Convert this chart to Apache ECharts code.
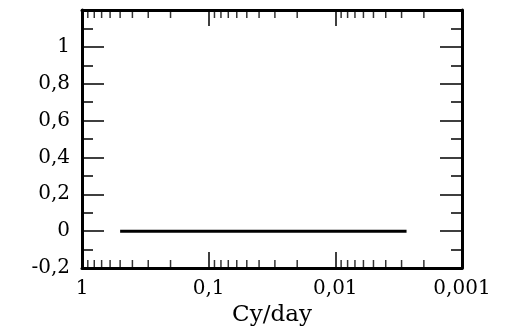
<!DOCTYPE html>
<html>
<head>
<meta charset="utf-8">
<script src="https://cdn.jsdelivr.net/npm/echarts@6/dist/echarts.min.js"></script>
<style>
  html, body { margin: 0; padding: 0; background: #fff; }
  #chart { width: 510px; height: 327px; }
</style>
</head>
<body>
<div id="chart"></div>
<script>
// line at zero from 0.5 cy/day down to 1/365 cy/day
var lineX = [0.5, 0.00274];
var lineY = [0, 0];
// minor log ticks between decades
var minorTickX = [0.9, 0.8, 0.7, 0.6, 0.5, 0.4, 0.3, 0.2,
                  0.09, 0.08, 0.07, 0.06, 0.05, 0.04, 0.03, 0.02,
                  0.009, 0.008, 0.007, 0.006, 0.005, 0.004, 0.003, 0.002];
var yMin = -0.2, yMax = 1.2, yStep = 0.2;
var xMin = 0.001, xMax = 1;

var font = 'DejaVu Serif';

function fmtX(v) {
    return String(Number(v.toPrecision(3))).replace('.', ',');
}
function fmtY(v) {
    var n = Math.round(v * 10) / 10;
    if (n === yMax) return '';
    return String(n).replace('.', ',');
}

var myChart = echarts.init(document.getElementById('chart'));

var xBase = {
    type: 'log',
    logBase: 10,
    inverse: true,
    min: xMin,
    max: xMax,
    axisLine: { onZero: false, lineStyle: { color: '#000', width: 3 } },
    axisTick: { inside: true, length: 16, lineStyle: { color: '#000', width: 1.5 } },
    splitLine: { show: false }
};
var yBase = {
    type: 'value',
    min: yMin,
    max: yMax,
    interval: yStep,
    axisLine: { show: true, onZero: false, lineStyle: { color: '#000', width: 3 } },
    axisTick: { show: true, inside: true, length: 22, lineStyle: { color: '#000', width: 1.5 } },
    minorTick: { show: true, splitNumber: 2, length: 11, lineStyle: { color: '#000', width: 1.5 } },
    splitLine: { show: false }
};

myChart.setOption({
    animation: false,
    grid: { left: 82, right: 48, top: 10, bottom: 59, outerBoundsMode: 'none', containLabel: false },
    xAxis: [
        Object.assign({}, xBase, {
            position: 'bottom',
            name: 'Cy/day',
            nameLocation: 'middle',
            nameGap: 27,
            nameTextStyle: { color: '#000', fontFamily: font, fontSize: 23 },
            axisLabel: { color: '#000', fontFamily: font, fontSize: 20, margin: 11, formatter: fmtX }
        }),
        Object.assign({}, xBase, {
            position: 'top',
            axisLabel: { show: false }
        })
    ],
    yAxis: [
        Object.assign({}, yBase, {
            position: 'left',
            axisLabel: { color: '#000', fontFamily: font, fontSize: 20, margin: 12, formatter: fmtY }
        }),
        Object.assign({}, yBase, {
            position: 'right',
            axisLabel: { show: false }
        })
    ],
    series: [
        {
            type: 'line',
            data: lineX.map(function (x, i) { return [x, lineY[i]]; }),
            showSymbol: false,
            lineStyle: { color: '#000', width: 3 }
        },
        {
            type: 'scatter',
            clip: false,
            silent: true,
            symbol: 'rect',
            symbolSize: [1.5, 8],
            symbolOffset: [0, -4],
            itemStyle: { color: '#000' },
            data: minorTickX.map(function (x) { return [x, yMin]; })
        },
        {
            type: 'scatter',
            clip: false,
            silent: true,
            symbol: 'rect',
            symbolSize: [1.5, 8],
            symbolOffset: [0, 4],
            itemStyle: { color: '#000' },
            data: minorTickX.map(function (x) { return [x, yMax]; })
        }
    ]
});
</script>
</body>
</html>
